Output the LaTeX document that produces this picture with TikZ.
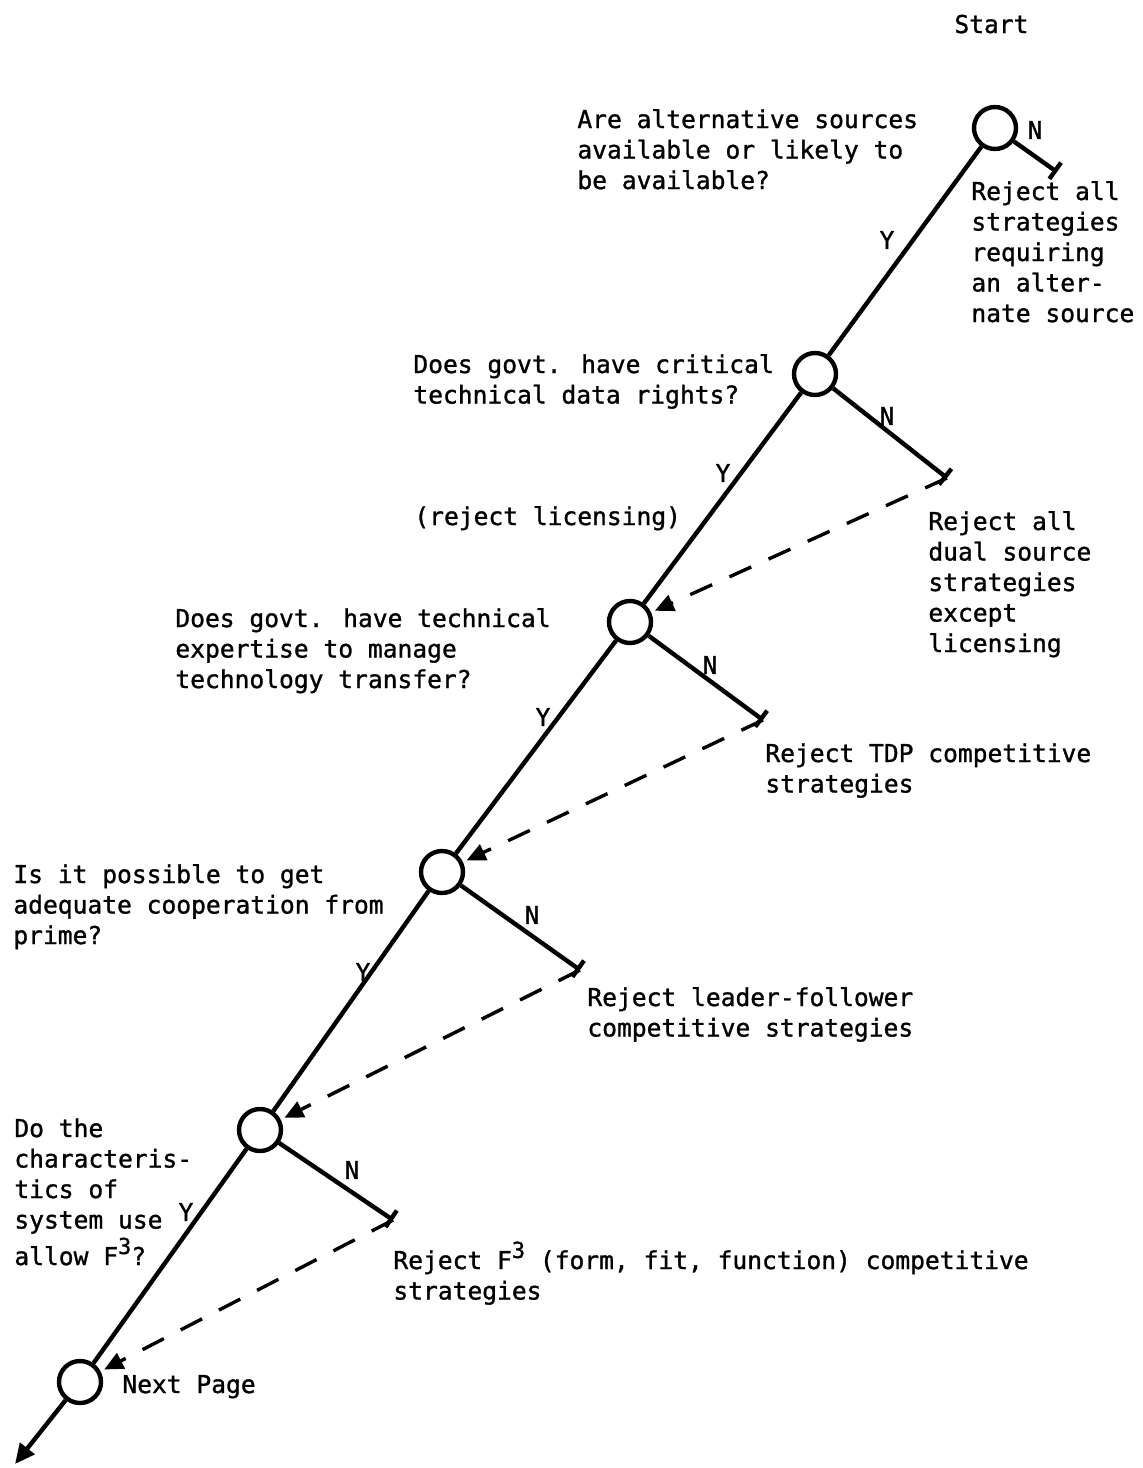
\documentclass[tikz,border=0pt]{standalone}
\usepackage{fontspec}
\newfontfamily\typewriter[FakeBold=1.2,BoldFont={DejaVu Sans Mono}]{DejaVu Sans Mono}
\usetikzlibrary{arrows.meta}
\newcommand{\tw}{\typewriter\bfseries\fontsize{12.3pt}{15.25pt}\selectfont}
\newcommand{\cubed}{\raisebox{0.45em}{\fontsize{11pt}{11pt}\selectfont 3}}
\newcommand{\block}[1]{\begin{tabular}[t]{@{}l@{}}#1\end{tabular}}
\begin{document}
\begin{tikzpicture}[x=0.5pt,y=-0.5pt,
  decision/.style={circle, draw, line width=2.2pt, minimum size=21pt, inner sep=0pt},
  yesline/.style={line width=2.2pt},
  noline/.style={line width=2.2pt, -{Bar[width=10pt,line width=2.2pt]}},
  backline/.style={line width=1.7pt, dash pattern=on 12pt off 9.5pt,
    -{Triangle[length=9.5pt,width=8.5pt]}, shorten >=2pt},
  txt/.style={font=\tw, inner sep=0pt, anchor=base west},
  lab/.style={font=\tw, inner sep=0pt, anchor=center}]
\useasboundingbox (0,0) rectangle (1142,1468);
\fill[white] (0,0) rectangle (1142,1468);

% decision points
\node[decision] (c1) at (995,128) {};
\node[decision] (c2) at (815,374) {};
\node[decision] (c3) at (630,622) {};
\node[decision] (c4) at (442,872) {};
\node[decision] (c5) at (260,1130) {};
\node[decision] (c6) at (80,1382) {};

% ends of the "no" branches
\coordinate (e1) at (1057,172);
\coordinate (e2) at (947,478);
\coordinate (e3) at (763,720);
\coordinate (e4) at (580,970);
\coordinate (e5) at (393,1220);
\coordinate (out) at (15,1464);

% "yes" spine
\draw[yesline] (c1) -- (c2);
\draw[yesline] (c2) -- (c3);
\draw[yesline] (c3) -- (c4);
\draw[yesline] (c4) -- (c5);
\draw[yesline] (c5) -- (c6);
\draw[yesline, -{Triangle[length=10pt,width=9pt]}] (c6) -- (out);

% "no" branches
\draw[noline] (c1) -- (e1);
\draw[noline] (c2) -- (e2);
\draw[noline] (c3) -- (e3);
\draw[noline] (c4) -- (e4);
\draw[noline] (c5) -- (e5);

% return paths
\draw[backline] (e2) -- (c3);
\draw[backline] (e3) -- (c4);
\draw[backline] (e4) -- (c5);
\draw[backline] (e5) -- (c6);

% branch labels
\node[lab] (n1) at (1035,130) {N};
\node[lab] (n2) at (887,416) {N};
\node[lab] (n3) at (710,665) {N};
\node[lab] (n4) at (532,915) {N};
\node[lab] (n5) at (352,1170) {N};
\node[lab] (y1) at (887,240) {Y};
\node[lab] (y2) at (723,473) {Y};
\node[lab] (y3) at (543,717) {Y};
\node[lab] (y4) at (363,972) {Y};
\node[lab] (y5) at (186,1212) {Y};

% questions and outcomes
\node[txt] (start) at (954,33) {Start};
\node[txt] (q1) at (577,128) {\block{Are alternative sources\\available or likely to\\be available?}};
\node[txt] (r1) at (971,200) {\block{Reject all\\strategies\\requiring\\an alter-\\nate source}};
\node[txt] (q2) at (413,373) {\block{Does govt. have critical\\technical data rights?}};
\node[txt] (rl) at (414,525) {(reject licensing)};
\node[txt] (r2) at (928,530) {\block{Reject all\\dual source\\strategies\\except\\licensing}};
\node[txt] (q3) at (175,627) {\block{Does govt. have technical\\expertise to manage\\technology transfer?}};
\node[txt] (r3) at (765,762) {\block{Reject TDP competitive\\strategies}};
\node[txt] (q4) at (13,883) {\block{Is it possible to get\\adequate cooperation from\\prime?}};
\node[txt] (r4) at (587,1006) {\block{Reject leader-follower\\competitive strategies}};
\node[txt] (q5) at (14,1137) {\block{Do the\\characteris-\\tics of\\system use\\allow F\cubed?}};
\node[txt] (r5) at (393,1269) {\block{Reject F\cubed{} (form, fit, function) competitive\\strategies}};
\node[txt] (next) at (122,1393) {Next Page};
\end{tikzpicture}
\end{document}
